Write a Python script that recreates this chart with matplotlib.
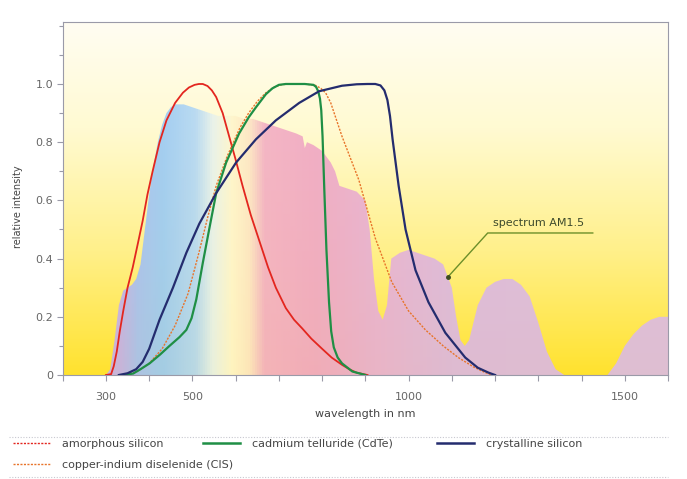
import matplotlib
matplotlib.use("Agg")
import matplotlib.pyplot as plt
import numpy as np
from matplotlib.colors import LinearSegmentedColormap
from matplotlib.lines import Line2D
from matplotlib.ticker import MultipleLocator, FixedFormatter, FixedLocator

plt.rcParams["font.family"] = ["DejaVu Sans"]

# spectrum AM1.5, normalised
spec_nm = [300, 310, 320, 330, 340, 350, 360, 370, 380, 390, 400, 410, 420, 430, 440,
           450, 460, 480, 500, 520, 540, 560, 580, 600, 620, 640, 660, 680, 700, 720,
           740, 755, 760, 765, 780, 800, 820, 830, 840, 860, 880, 900, 910, 920, 930,
           940, 950, 960, 980, 1000, 1020, 1040, 1060, 1080, 1100, 1110, 1120, 1130,
           1140, 1150, 1160, 1180, 1200, 1220, 1240, 1260, 1280, 1300, 1320, 1340,
           1360, 1400, 1440, 1460, 1480, 1500, 1520, 1540, 1560, 1580, 1600]
spec_val = [0.0, 0.02, 0.12, 0.24, 0.29, 0.30, 0.31, 0.33, 0.38, 0.50, 0.62, 0.72, 0.80, 0.86, 0.90,
            0.92, 0.93, 0.93, 0.92, 0.91, 0.90, 0.89, 0.89, 0.89, 0.88, 0.88, 0.87, 0.86, 0.85, 0.84,
            0.83, 0.82, 0.78, 0.80, 0.79, 0.77, 0.73, 0.70, 0.65, 0.64, 0.63, 0.60, 0.50, 0.33, 0.22,
            0.19, 0.24, 0.40, 0.42, 0.43, 0.42, 0.41, 0.40, 0.38, 0.30, 0.20, 0.12, 0.10,
            0.12, 0.18, 0.24, 0.30, 0.32, 0.33, 0.33, 0.31, 0.27, 0.18, 0.08, 0.02,
            0.0, 0.0, 0.0, 0.0, 0.04, 0.10, 0.14, 0.17, 0.19, 0.20, 0.20]

# relative spectral response of the cell types
asi_nm = [300, 312, 318, 325, 332, 340, 350, 362, 375, 385, 396, 408, 424, 440, 460,
          478, 492, 505, 515, 524, 535, 545, 555, 570, 585, 600, 616, 635, 655, 675,
          693, 716, 735, 754, 775, 800, 822, 846, 865, 880, 905]
asi_val = [0.0, 0.003, 0.03, 0.08, 0.15, 0.22, 0.30, 0.37, 0.46, 0.53, 0.62, 0.70, 0.80, 0.875, 0.935,
           0.97, 0.988, 0.997, 1.0, 1.0, 0.993, 0.978, 0.955, 0.90, 0.82, 0.74, 0.65, 0.55, 0.46, 0.37,
           0.30, 0.23, 0.19, 0.16, 0.125, 0.09, 0.06, 0.035, 0.018, 0.008, 0.0]

cis_nm = [340, 370, 400, 430, 460, 490, 515, 535, 555, 580, 610, 630, 650, 670, 690,
          705, 720, 760, 785, 797, 808, 820, 846, 885, 923, 961, 1000, 1039, 1080,
          1115, 1150, 1175, 1192]
cis_val = [0.0, 0.01, 0.04, 0.09, 0.17, 0.28, 0.42, 0.54, 0.65, 0.75, 0.85, 0.90, 0.94, 0.97, 0.99,
           0.997, 1.0, 1.0, 0.995, 0.985, 0.97, 0.935, 0.82, 0.67, 0.47, 0.32, 0.22, 0.155, 0.10,
           0.06, 0.028, 0.01, 0.0]

cdte_nm = [340, 363, 380, 401, 425, 447, 470, 486, 498, 509, 524, 540, 555, 578, 608,
           630, 647, 670, 685, 700, 716, 760, 780, 786, 791, 795, 798, 801, 805, 810,
           816, 821, 827, 836, 846, 870, 900]
cdte_val = [0.0, 0.005, 0.02, 0.04, 0.07, 0.10, 0.13, 0.155, 0.195, 0.26, 0.385, 0.51, 0.625, 0.73, 0.83,
            0.885, 0.92, 0.965, 0.985, 0.997, 1.0, 1.0, 0.997, 0.99, 0.975, 0.95, 0.91, 0.82, 0.64, 0.43,
            0.25, 0.15, 0.095, 0.06, 0.04, 0.012, 0.0]

csi_nm = [330, 350, 370, 385, 400, 424, 455, 486, 516, 555, 601, 647, 693, 747, 793,
          846, 880, 905, 923, 935, 944, 951, 957, 963, 970, 977, 993, 1016, 1046, 1085,
          1131, 1160, 1185, 1200]
csi_val = [0.0, 0.006, 0.02, 0.045, 0.09, 0.19, 0.30, 0.42, 0.52, 0.625, 0.73, 0.81, 0.875, 0.935, 0.975,
           0.994, 0.999, 1.0, 1.0, 0.995, 0.978, 0.945, 0.89, 0.81, 0.73, 0.65, 0.50, 0.36, 0.25, 0.145,
           0.06, 0.025, 0.008, 0.0]

x_labels = {300: "300", 500: "500", 1000: "1000", 1500: "1500"}
y_ticks = [0, 0.2, 0.4, 0.6, 0.8, 1.0]
y_labels = ["0", "0.2", "0.4", "0.6", "0.8", "1.0"]

# annotation leader (data units)
note_text = "spectrum AM1.5"
note_xy = (1195, 0.505)
leader_x = [1091, 1183, 1426]
leader_y = [0.337, 0.488, 0.488]

fig = plt.figure(figsize=(6.87, 4.79), dpi=100)
ax = fig.add_axes([62.7 / 687, 1 - 375 / 479, (668 - 62.7) / 687, (375 - 22) / 479])
xmin, xmax, ymin, ymax = 200, 1600, 0, 1.213

# yellow background, pale at the top
bg = LinearSegmentedColormap.from_list(
    "bg", [(0, "#ffe22e"), (0.35, "#fff08a"), (0.7, "#fffad2"), (1, "#fffdf2")])
ax.imshow(np.linspace(0, 1, 256).reshape(-1, 1), cmap=bg, origin="lower",
          extent=[xmin, xmax, ymin, ymax], aspect="auto", zorder=0)

# spectrum fill coloured along the wavelength
stops = [(200, "#c9b4e6"), (330, "#c4b0e8"), (370, "#a6c0f2"), (430, "#9ccbf4"),
         (505, "#b4d8f4"), (545, "#e8f2ec"), (590, "#fff6cc"), (630, "#fde6c4"),
         (665, "#f3b0c4"), (780, "#f0a8c4"), (920, "#e8b0d4"), (1100, "#dcb8e0"),
         (1600, "#dcbce2")]
cm = LinearSegmentedColormap.from_list(
    "spec", [((w - xmin) / (xmax - xmin), c) for w, c in stops])
poly = ax.fill_between(spec_nm, spec_val, 0, color="none", lw=0, zorder=1)
img = ax.imshow(np.linspace(0, 1, 512).reshape(1, -1), cmap=cm, origin="lower",
                extent=[xmin, xmax, 0, 1], aspect="auto", zorder=1, alpha=0.92)
img.set_clip_path(poly.get_paths()[0], transform=ax.transData)
ax.set_xlim(xmin, xmax)
ax.set_ylim(ymin, ymax)

ax.plot(asi_nm, asi_val, color="#e3261f", lw=1.3, zorder=3)
ax.plot(cis_nm, cis_val, color="#e8742a", lw=1.0, ls=(0, (1.5, 1)), zorder=3)
ax.plot(cdte_nm, cdte_val, color="#1f8f45", lw=1.6, zorder=4)
ax.plot(csi_nm, csi_val, color="#242c6e", lw=1.6, zorder=4)

ax.plot(leader_x, leader_y, color="#6c8f2a", lw=1.0, zorder=5)
ax.plot(leader_x[0], leader_y[0], "o", color="#3c4a20", ms=2.5, zorder=5)
ax.text(note_xy[0], note_xy[1], note_text, fontsize=8, color="#3d4a2c",
        ha="left", va="bottom", zorder=5)

# axes styling
for s in ax.spines.values():
    s.set_color("#9a9aa8")
    s.set_linewidth(0.8)
ticks = list(range(200, 1601, 100))
ax.xaxis.set_major_locator(FixedLocator(ticks))
ax.xaxis.set_major_formatter(FixedFormatter([x_labels.get(t, "") for t in ticks]))
ax.yaxis.set_major_locator(FixedLocator(y_ticks))
ax.yaxis.set_major_formatter(FixedFormatter(y_labels))
ax.yaxis.set_minor_locator(MultipleLocator(0.1))
ax.tick_params(axis="x", length=4, width=0.8, color="#9a9aa8", labelsize=8,
               labelcolor="#666", pad=8)
ax.tick_params(axis="y", which="major", length=4, width=0.8, color="#9a9aa8",
               labelsize=8, labelcolor="#666", pad=3)
ax.tick_params(axis="y", which="minor", length=3, width=0.8, color="#9a9aa8")

ax.set_xlabel("wavelength in nm", fontsize=8, color="#444")
ax.xaxis.set_label_coords(0.5, -0.095)
ax.set_ylabel("relative intensity", fontsize=7, color="#444")
ax.yaxis.set_label_coords(-0.066, 0.476)

# legend below the plot
h_asi = Line2D([], [], color="#e3261f", lw=1.0, ls=(0, (1.5, 1)))
h_cis = Line2D([], [], color="#e8742a", lw=1.0, ls=(0, (1.5, 1)))
h_cdte = Line2D([], [], color="#1f8f45", lw=1.8)
h_csi = Line2D([], [], color="#242c6e", lw=1.8)
common = dict(frameon=False, fontsize=8, handlelength=3.3, handletextpad=1.1,
              borderpad=0, borderaxespad=0, labelcolor="#444")
fig.legend([h_asi, h_cis], ["amorphous silicon", "copper-indium diselenide (CIS)"],
           loc="upper left", bbox_to_anchor=(13 / 687, 1 - 439 / 479),
           labelspacing=0.95, **common)
fig.legend([h_cdte], ["cadmium telluride (CdTe)"], loc="upper left",
           bbox_to_anchor=(203 / 687, 1 - 439 / 479), **common)
fig.legend([h_csi], ["crystalline silicon"], loc="upper left",
           bbox_to_anchor=(437 / 687, 1 - 439 / 479), **common)
for yy in (437, 477):
    fig.add_artist(Line2D([9 / 687, 668 / 687], [1 - yy / 479] * 2, color="#c8c8d0",
                          lw=0.8, ls=(0, (1, 1.5))))

fig.savefig("out.png", dpi=100)
